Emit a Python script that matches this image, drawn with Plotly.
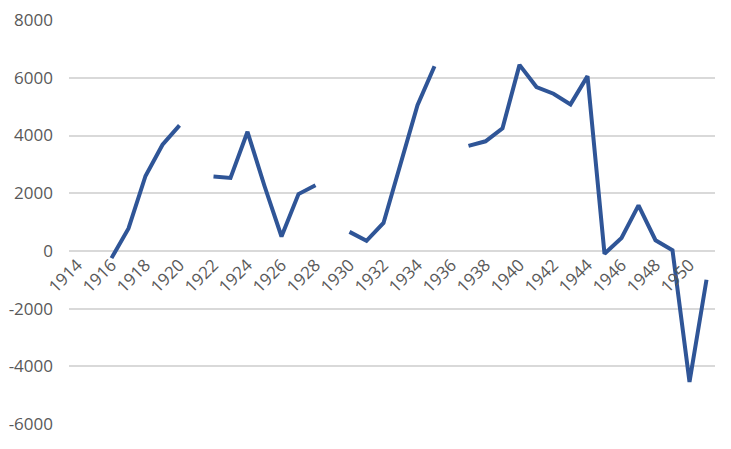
import plotly.graph_objects as go

years = list(range(1914, 1952))
values = [
    None, None, -250, 780, 2600, 3680, 4350, None,
    2580, 2530, 4130, 2250, 500, 1970, 2280, None,
    660, 350, 970, 3000, 5050, 6400, None,
    3640, 3800, 4250, 6450, 5680, 5450, 5080, 6060,
    -100, 450, 1580, 370, 20, -4540, -1000,
]
tick_years = list(range(1914, 1951, 2))
y_ticks = [-6000, -4000, -2000, 0, 2000, 4000, 6000, 8000]
y_labels = [str(v) for v in y_ticks]  # plain hyphen like the original

y_min, y_max = -6000, 8000
txt = "#595959"
grid = "#D9D9D9"

fig = go.Figure()
fig.add_trace(go.Scatter(
    x=years,
    y=values,
    mode="lines",
    connectgaps=False,
    line=dict(color="#2F5597", width=4),
    showlegend=False,
    hoverinfo="skip",
))

fig.update_layout(
    width=731,
    height=449,
    autosize=False,
    margin=dict(l=69, r=16, t=20, b=25, pad=0),
    paper_bgcolor="white",
    plot_bgcolor="white",
    font=dict(family="Open Sans", size=17, color=txt),
)

fig.update_xaxes(
    range=[1913.5, 1951.5],
    tickmode="array",
    tickvals=tick_years,
    ticktext=[str(y) for y in tick_years],
    tickangle=-45,
    tickfont=dict(size=17),
    showgrid=False,
    showline=False,
    zeroline=False,
    anchor="free",
    position=(0 - y_min) / (y_max - y_min),
    ticks="",
    automargin=False,
    ticklabeloverflow="allow",
)

fig.update_yaxes(
    range=[y_min, y_max + 5],
    tickmode="array",
    tickvals=y_ticks,
    ticktext=y_labels,
    tickfont=dict(size=17),
    showgrid=True,
    gridcolor=grid,
    gridwidth=2,
    zeroline=True,
    zerolinecolor=grid,
    zerolinewidth=2,
    showline=False,
    ticks="",
    ticklabelstandoff=15,
    automargin=False,
    ticklabeloverflow="allow",
)

# drop the default 8px page margin so the figure sits at the window corner
fig.write_html(
    "out.html",
    config={"responsive": False, "displayModeBar": False},
    post_script="document.body.style.margin='0';",
)
